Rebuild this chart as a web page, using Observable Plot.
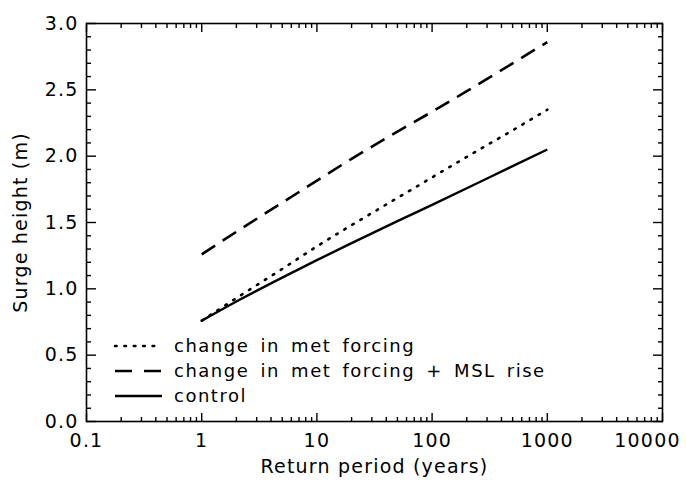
<!DOCTYPE html>
<html>
<head>
<meta charset="utf-8">
<script src="https://cdn.jsdelivr.net/npm/d3@7"></script>
<script src="https://cdn.jsdelivr.net/npm/@observablehq/plot@0.6"></script>
<style>
  html, body { margin: 0; padding: 0; background: #fff; }
  #wrap { position: relative; width: 686px; height: 482px; font-family: "DejaVu Sans", sans-serif; }
  #wrap svg text { letter-spacing: 1.2px; }
  #legend { position: absolute; left: 112px; top: 333px; font-size: 18px; letter-spacing: 1.5px; word-spacing: 4px; color: #000; }
  #legend .row { display: flex; align-items: center; height: 25px; }
  #legend svg { width: 54px; height: 10px; margin-right: 8px; flex: none; }
</style>
</head>
<body>
<div id="wrap"></div>
<script>
// Data
const returnPeriod  = [1, 2, 5, 10, 20, 50, 100, 200, 500, 1000];
const control       = [0.76, 0.905, 1.085, 1.216, 1.345, 1.51, 1.633, 1.758, 1.925, 2.05];
const metForcing    = [0.76, 0.93, 1.15, 1.32, 1.48, 1.685, 1.84, 1.995, 2.195, 2.35];
const metForcingMSL = [1.26, 1.43, 1.65, 1.815, 1.98, 2.185, 2.335, 2.49, 2.70, 2.86];
const seriesNames = ["change in met forcing", "change in met forcing + MSL rise", "control"];
const xMajor = [0.1, 1, 10, 100, 1000, 10000];
const xTickLabels = ["0.1", "1", "10", "100", "1000", "10000"];
const yMajor = [0, 0.5, 1.0, 1.5, 2.0, 2.5, 3.0];

const xMinor = [];
for (const d of [0.1, 1, 10, 100, 1000]) for (let m = 2; m <= 9; m++) xMinor.push(d * m);
const yMinor = d3.range(0, 31).map(i => i / 10).filter(v => Math.abs(v * 2 - Math.round(v * 2)) > 1e-9);

const styles = [
  {name: seriesNames[0], vals: metForcing, dash: "1.6,7.8", legendDash: "1.6,7.8", width: 2.6, cap: "round"},
  {name: seriesNames[1], vals: metForcingMSL, dash: "16,9", legendDash: "17,12", width: 2.6, cap: "butt"},
  {name: seriesNames[2], vals: control, dash: null, legendDash: null, width: 2.4, cap: "butt"}
];

const lineMarks = styles.map(s => Plot.line(
  returnPeriod.map((t, i) => ({t, v: s.vals[i]})),
  {x: "t", y: "v", curve: "monotone-x", stroke: "black", strokeWidth: s.width, strokeDasharray: s.dash, strokeLinecap: s.cap}
));

const fmtX = d => xTickLabels[xMajor.indexOf(d)] ?? "";
const tickOpts = {tickFormat: () => "", label: null, strokeWidth: 1.4};

const chart = Plot.plot({
  width: 686, height: 482,
  marginLeft: 86, marginRight: 24, marginTop: 23, marginBottom: 61,
  x: {type: "log", domain: [0.1, 10000]},
  y: {domain: [0, 3]},
  style: {fontFamily: "DejaVu Sans, sans-serif", fontSize: "18px", color: "black", background: "white"},
  marks: [
    Plot.frame({stroke: "black", strokeWidth: 1.6}),
    // inward ticks x
    Plot.axisX(xMajor, {anchor: "bottom", tickSize: -8, ...tickOpts}),
    Plot.axisX(xMinor, {anchor: "bottom", tickSize: -4, ...tickOpts}),
    Plot.axisX(xMajor, {anchor: "top", tickSize: -8, ...tickOpts}),
    Plot.axisX(xMinor, {anchor: "top", tickSize: -4, ...tickOpts}),
    // inward ticks y
    Plot.axisY(yMajor, {anchor: "left", tickSize: -10, ...tickOpts}),
    Plot.axisY(yMinor, {anchor: "left", tickSize: -5, ...tickOpts}),
    Plot.axisY(yMajor, {anchor: "right", tickSize: -10, ...tickOpts}),
    Plot.axisY(yMinor, {anchor: "right", tickSize: -5, ...tickOpts}),
    // labels
    Plot.axisX(xMajor.slice(0, -1), {anchor: "bottom", tickSize: 0, tickPadding: 12, tickFormat: fmtX, fontSize: 19, label: null}),
    Plot.axisX(xMajor.slice(-1), {anchor: "bottom", tickSize: 0, tickPadding: 12, tickFormat: fmtX, fontSize: 19,
      dx: -15, label: null}),
    Plot.axisX([], {anchor: "bottom", tickSize: 0, fontSize: 19, dx: -8,
      label: "Return period (years)", labelAnchor: "center", labelArrow: "none", labelOffset: 51}),
    Plot.axisY(yMajor, {anchor: "left", tickSize: 0, tickPadding: 8, tickFormat: d3.format(".1f"), fontSize: 19,
      label: "Surge height (m)", labelAnchor: "center", labelArrow: "none", labelOffset: 73}),
    ...lineMarks
  ]
});

const wrap = document.getElementById("wrap");
wrap.appendChild(chart);

// Legend
const legend = document.createElement("div");
legend.id = "legend";
for (const s of styles) {
  const row = document.createElement("div");
  row.className = "row";
  const dash = s.legendDash ? `stroke-dasharray="${s.legendDash}"` : "";
  row.innerHTML = `<svg viewBox="0 0 54 10"><line x1="3" y1="5" x2="50" y2="5" stroke="black" stroke-width="${s.width}" stroke-linecap="${s.cap}" ${dash}/></svg><span>${s.name}</span>`;
  legend.appendChild(row);
}
wrap.appendChild(legend);
</script>
</body>
</html>
